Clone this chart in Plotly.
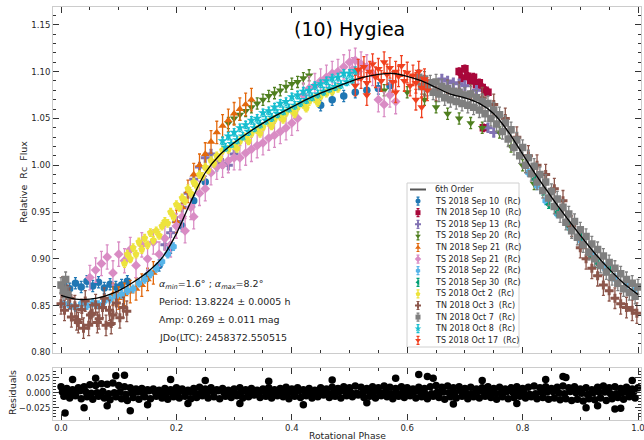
import plotly.graph_objects as go

# ---------------- data ----------------
SERIES_NAMES = ["TS 2018 Sep 10", "TN 2018 Sep 10", "TS 2018 Sep 13", "TS 2018 Sep 20",
                "TN 2018 Sep 21", "TS 2018 Sep 21", "TS 2018 Sep 22", "TS 2018 Sep 30",
                "TS 2018 Oct 2", "TN 2018 Oct 3", "TN 2018 Oct 7", "TN 2018 Oct 8",
                "TS 2018 Oct 17"]
SERIES_ERR = [0.006, 0.004, 0.005, 0.006, 0.012, 0.013, 0.004, 0.004, 0.004, 0.011, 0.008, 0.004, 0.011]

P_TS_SEP10 = [0.005, 0.015, 0.025, 0.035, 0.045, 0.055, 0.065, 0.075, 0.085, 0.095, 0.105, 0.115,
              0.150, 0.170, 0.190, 0.210, 0.230, 0.250, 0.270,
              0.450, 0.470, 0.490, 0.510, 0.530, 0.550, 0.570]
F_TS_SEP10 = [0.872, 0.868, 0.874, 0.870, 0.876, 0.871, 0.875, 0.869, 0.873, 0.870, 0.872, 0.876,
              0.882, 0.893, 0.912, 0.935, 0.962, 0.982, 1.000,
              1.064, 1.070, 1.074, 1.078, 1.080, 1.082, 1.085]

P_TN_SEP10 = [0.690, 0.695, 0.700, 0.705, 0.710, 0.715, 0.720, 0.725, 0.730, 0.735, 0.740, 0.732]
F_TN_SEP10 = [1.100, 1.093, 1.103, 1.095, 1.090, 1.094, 1.086, 1.088, 1.083, 1.080, 1.078, 1.040]

P_TS_SEP13 = [0.180, 0.190, 0.200, 0.210, 0.220, 0.230, 0.240, 0.250, 0.260, 0.270, 0.280, 0.290, 0.300,
              0.660, 0.670, 0.680, 0.690, 0.700, 0.720, 0.740, 0.750]
F_TS_SEP13 = [0.915, 0.928, 0.940, 0.955, 0.970, 0.985, 0.998, 1.008, 1.012, 1.005, 1.002, 1.000, 1.012,
              1.092, 1.090, 1.088, 1.087, 1.085, 1.080, 1.040, 1.035]

P_TS_SEP20 = [0.290, 0.300, 0.310, 0.320, 0.330, 0.340, 0.350, 0.360, 0.370, 0.380, 0.390, 0.400, 0.410, 0.420, 0.430,
              0.560, 0.600, 0.630, 0.650, 0.670, 0.690, 0.710, 0.730, 0.760, 0.780, 0.800, 0.820]
F_TS_SEP20 = [1.045, 1.050, 1.054, 1.058, 1.062, 1.066, 1.070, 1.074, 1.077, 1.080, 1.084, 1.087, 1.089, 1.093, 1.096,
              1.080, 1.078, 1.070, 1.062, 1.055, 1.050, 1.045, 1.040, 1.035, 1.020, 1.000, 0.980]

P_TN_SEP21 = [0.090, 0.100, 0.110, 0.120, 0.130, 0.140, 0.150, 0.160,
              0.200, 0.210, 0.220, 0.230, 0.240, 0.250, 0.260, 0.270, 0.280, 0.290, 0.300, 0.310, 0.320, 0.330]
F_TN_SEP21 = [0.862, 0.858, 0.862, 0.865, 0.868, 0.872, 0.878, 0.885,
              0.940, 0.955, 0.972, 0.990, 1.000, 1.012, 1.025, 1.035, 1.042, 1.048, 1.055, 1.060, 1.065, 1.070]

P_TS_SEP21 = [0.050, 0.060, 0.070, 0.080, 0.090, 0.100, 0.110, 0.120, 0.130, 0.140,
              0.150, 0.160, 0.170, 0.180, 0.190, 0.200, 0.210, 0.215, 0.225, 0.230,
              0.240, 0.250, 0.260, 0.270, 0.280, 0.290, 0.300, 0.310, 0.320, 0.330,
              0.340, 0.350, 0.360, 0.370, 0.380, 0.390, 0.400, 0.410,
              0.420, 0.430, 0.440, 0.450, 0.460, 0.470, 0.480, 0.490, 0.500, 0.505,
              0.510, 0.515, 0.520, 0.530, 0.540, 0.550, 0.560, 0.570, 0.580]
F_TS_SEP21 = [0.880, 0.888, 0.895, 0.902, 0.885, 0.905, 0.898, 0.910, 0.893, 0.915,
              0.900, 0.918, 0.905, 0.922, 0.915, 0.935, 0.945, 0.930, 0.955, 0.945,
              0.970, 0.975, 0.992, 0.998, 1.000, 1.005, 1.008, 1.008, 1.013, 1.017,
              1.021, 1.024, 1.029, 1.032, 1.036, 1.040, 1.045, 1.050,
              1.075, 1.082, 1.085, 1.090, 1.094, 1.098, 1.100, 1.105, 1.110, 1.102,
              1.112, 1.100, 1.108, 1.105, 1.098, 1.070, 1.065, 1.075, 1.068]

P_TS_SEP22 = [0.005, 0.015, 0.025, 0.035, 0.045, 0.055, 0.065, 0.075, 0.085, 0.095,
              0.105, 0.115, 0.125, 0.135, 0.145, 0.155, 0.165, 0.175, 0.185, 0.195,
              0.810, 0.825, 0.840, 0.860, 0.880, 0.900, 0.920, 0.940, 0.960, 0.980, 0.995]
F_TS_SEP22 = [0.852, 0.850, 0.848, 0.852, 0.850, 0.853, 0.851, 0.855, 0.857, 0.860,
              0.862, 0.866, 0.868, 0.874, 0.878, 0.884, 0.890, 0.897, 0.905, 0.913,
              0.992, 0.978, 0.962, 0.948, 0.935, 0.920, 0.905, 0.892, 0.880, 0.872, 0.868]

P_TS_SEP30 = [0.820, 0.835, 0.845, 0.860, 0.880, 0.900, 0.915, 0.930, 0.950]
F_TS_SEP30 = [0.985, 0.972, 0.958, 0.950, 0.935, 0.924, 0.905, 0.895, 0.890]

P_TS_OCT2 = [0.110, 0.115, 0.120, 0.125, 0.130, 0.135, 0.140, 0.145, 0.150, 0.155,
             0.160, 0.165, 0.170, 0.175, 0.180, 0.185, 0.190, 0.195, 0.200, 0.205,
             0.210, 0.215, 0.220, 0.225, 0.230, 0.235, 0.240, 0.245, 0.250, 0.255,
             0.260, 0.265, 0.270, 0.275, 0.280,
             0.290, 0.300, 0.310, 0.320, 0.330, 0.340, 0.350, 0.360, 0.370, 0.380,
             0.390, 0.400, 0.410, 0.420, 0.430, 0.440, 0.450, 0.460, 0.470, 0.480,
             0.305, 0.325, 0.345, 0.365, 0.385, 0.405, 0.425, 0.445]
F_TS_OCT2 = [0.895, 0.905, 0.900, 0.912, 0.905, 0.918, 0.910, 0.922, 0.915, 0.928,
             0.920, 0.930, 0.925, 0.935, 0.940, 0.938, 0.950, 0.945, 0.958, 0.955,
             0.965, 0.962, 0.975, 0.970, 0.982, 0.978, 0.990, 0.988, 0.998, 0.995,
             1.005, 1.002, 1.010, 1.008, 1.016,
             1.017, 1.021, 1.026, 1.030, 1.034, 1.038, 1.041, 1.046, 1.049, 1.052,
             1.056, 1.059, 1.062, 1.065, 1.068, 1.071, 1.074, 1.077, 1.079, 1.082,
             1.018, 1.026, 1.034, 1.042, 1.049, 1.055, 1.061, 1.067]

P_TN_OCT3 = [0.000, 0.006, 0.012, 0.018, 0.024, 0.030, 0.036, 0.042, 0.048, 0.054,
             0.060, 0.066, 0.072, 0.078, 0.084, 0.090, 0.096, 0.102, 0.108, 0.114,
             0.003, 0.015, 0.027, 0.039, 0.051, 0.063, 0.075, 0.087,
             0.630, 0.650, 0.670, 0.690, 0.710, 0.730, 0.750, 0.770, 0.790, 0.810,
             0.825, 0.840, 0.855, 0.870, 0.885, 0.900, 0.910, 0.920, 0.930, 0.940,
             0.950, 0.960, 0.970, 0.980, 0.990, 0.998]
F_TN_OCT3 = [0.852, 0.845, 0.861, 0.838, 0.850, 0.832, 0.846, 0.855, 0.829, 0.842,
             0.851, 0.836, 0.848, 0.829, 0.845, 0.840, 0.853, 0.837, 0.848, 0.844,
             0.870, 0.858, 0.835, 0.826, 0.840, 0.832, 0.858, 0.831,
             1.085, 1.080, 1.080, 1.078, 1.075, 1.072, 1.065, 1.050, 1.030, 1.010,
             1.000, 0.990, 0.975, 0.962, 0.935, 0.912, 0.900, 0.890, 0.882, 0.872,
             0.866, 0.858, 0.852, 0.848, 0.845, 0.842]

P_TN_OCT7 = [0.620, 0.630, 0.640, 0.650, 0.660, 0.670, 0.680, 0.690, 0.700, 0.710,
             0.720, 0.730, 0.740, 0.750, 0.760, 0.770, 0.780, 0.790, 0.800, 0.810,
             0.820, 0.830, 0.840, 0.850, 0.860, 0.870, 0.880, 0.890, 0.900, 0.910,
             0.920, 0.930, 0.940, 0.950, 0.960, 0.970, 0.980, 0.990, 1.000,
             0.625, 0.635, 0.645, 0.655, 0.665, 0.675, 0.685, 0.695, 0.705, 0.715,
             0.725, 0.735, 0.745, 0.755, 0.765, 0.775, 0.785, 0.795, 0.805, 0.815,
             0.825, 0.835, 0.845, 0.855, 0.865, 0.875, 0.885, 0.895, 0.905, 0.915,
             0.925, 0.935, 0.945, 0.955, 0.965, 0.975, 0.985, 0.995,
             0.000, 0.004, 0.008, 0.012]
F_TN_OCT7 = [1.094, 1.092, 1.088, 1.089, 1.084, 1.082, 1.079, 1.078, 1.075, 1.076,
             1.072, 1.068, 1.066, 1.059, 1.054, 1.045, 1.038, 1.027, 1.019, 1.008,
             0.999, 0.990, 0.982, 0.972, 0.964, 0.955, 0.948, 0.940, 0.931, 0.924,
             0.916, 0.910, 0.903, 0.896, 0.890, 0.884, 0.878, 0.874, 0.870,
             1.084, 1.082, 1.078, 1.076, 1.072, 1.070, 1.068, 1.066, 1.064, 1.062,
             1.059, 1.055, 1.050, 1.044, 1.036, 1.028, 1.019, 1.010, 1.000, 0.991,
             0.982, 0.973, 0.965, 0.956, 0.947, 0.939, 0.930, 0.923, 0.915, 0.907,
             0.900, 0.893, 0.886, 0.880, 0.874, 0.868, 0.864, 0.860,
             0.872, 0.866, 0.878, 0.862]

P_TN_OCT8 = [0.280, 0.290, 0.300, 0.310, 0.320, 0.330, 0.340, 0.350, 0.360, 0.370,
             0.380, 0.390, 0.400, 0.410, 0.420, 0.430, 0.440, 0.450, 0.460, 0.470,
             0.480, 0.490, 0.500, 0.510,
             0.285, 0.295, 0.305, 0.315, 0.325, 0.335, 0.345, 0.355, 0.365, 0.375,
             0.385, 0.395, 0.405, 0.415, 0.425, 0.435, 0.445, 0.455, 0.465, 0.475,
             0.485, 0.495, 0.505]
F_TN_OCT8 = [1.026, 1.031, 1.035, 1.040, 1.043, 1.048, 1.050, 1.056, 1.058, 1.062,
             1.066, 1.068, 1.073, 1.075, 1.079, 1.080, 1.085, 1.087, 1.090, 1.093,
             1.094, 1.098, 1.098, 1.101,
             1.019, 1.023, 1.027, 1.031, 1.036, 1.040, 1.044, 1.048, 1.051, 1.055,
             1.058, 1.061, 1.064, 1.067, 1.070, 1.073, 1.076, 1.079, 1.082, 1.084,
             1.086, 1.089, 1.091]

P_TS_OCT17 = [0.510, 0.515, 0.520, 0.525, 0.530, 0.535, 0.540, 0.545, 0.550, 0.555,
              0.560, 0.565, 0.570, 0.575, 0.580, 0.585, 0.590, 0.595, 0.600, 0.605,
              0.610, 0.615, 0.620, 0.625, 0.630, 0.635,
              0.530, 0.580, 0.615, 0.625]
F_TS_OCT17 = [1.085, 1.102, 1.093, 1.105, 1.088, 1.100, 1.108, 1.094, 1.103, 1.090,
              1.110, 1.097, 1.104, 1.089, 1.100, 1.095, 1.106, 1.090, 1.099, 1.085,
              1.096, 1.088, 1.100, 1.083, 1.092, 1.080,
              1.075, 1.078, 1.070, 1.062]

FIT_PHASE = [0.000, 0.025, 0.050, 0.075, 0.100, 0.125, 0.150, 0.175, 0.200, 0.225,
             0.250, 0.275, 0.300, 0.325, 0.350, 0.375, 0.400, 0.425, 0.450, 0.475,
             0.500, 0.525, 0.550, 0.575, 0.600, 0.625, 0.650, 0.675, 0.700, 0.725,
             0.750, 0.775, 0.800, 0.825, 0.850, 0.875, 0.900, 0.925, 0.950, 0.975, 1.000]
FIT_FLUX = [0.861, 0.857, 0.857, 0.860, 0.866, 0.875, 0.886, 0.901, 0.927, 0.961,
            0.992, 1.011, 1.024, 1.035, 1.045, 1.054, 1.062, 1.070, 1.077, 1.083,
            1.089, 1.094, 1.097, 1.098, 1.095, 1.090, 1.083, 1.076, 1.072, 1.066,
            1.055, 1.036, 1.012, 0.988, 0.966, 0.945, 0.925, 0.906, 0.889, 0.874, 0.862]

RES_PHASE = [0.00, 0.01, 0.02, 0.03, 0.04, 0.05, 0.06, 0.07, 0.08, 0.09,
             0.10, 0.11, 0.12, 0.13, 0.14, 0.15, 0.16, 0.17, 0.18, 0.19,
             0.20, 0.21, 0.22, 0.23, 0.24, 0.25, 0.26, 0.27, 0.28, 0.29,
             0.30, 0.31, 0.32, 0.33, 0.34, 0.35, 0.36, 0.37, 0.38, 0.39,
             0.40, 0.41, 0.42, 0.43, 0.44, 0.45, 0.46, 0.47, 0.48, 0.49,
             0.50, 0.51, 0.52, 0.53, 0.54, 0.55, 0.56, 0.57, 0.58, 0.59,
             0.60, 0.61, 0.62, 0.63, 0.64, 0.65, 0.66, 0.67, 0.68, 0.69,
             0.70, 0.71, 0.72, 0.73, 0.74, 0.75, 0.76, 0.77, 0.78, 0.79,
             0.80, 0.81, 0.82, 0.83, 0.84, 0.85, 0.86, 0.87, 0.88, 0.89,
             0.90, 0.91, 0.92, 0.93, 0.94, 0.95, 0.96, 0.97, 0.98, 0.99, 1.00,
             0.005, 0.015, 0.025, 0.035, 0.045, 0.055, 0.065, 0.075, 0.085, 0.095,
             0.105, 0.115, 0.125, 0.135, 0.145, 0.155, 0.165, 0.175, 0.185, 0.195,
             0.205, 0.215, 0.225, 0.235, 0.245, 0.255, 0.265, 0.275, 0.285, 0.295,
             0.305, 0.315, 0.325, 0.335, 0.345, 0.355, 0.365, 0.375, 0.385, 0.395,
             0.405, 0.415, 0.425, 0.435, 0.445, 0.455, 0.465, 0.475, 0.485, 0.495,
             0.505, 0.515, 0.525, 0.535, 0.545, 0.555, 0.565, 0.575, 0.585, 0.595,
             0.605, 0.615, 0.625, 0.635, 0.645, 0.655, 0.665, 0.675, 0.685, 0.695,
             0.705, 0.715, 0.725, 0.735, 0.745, 0.755, 0.765, 0.775, 0.785, 0.795,
             0.805, 0.815, 0.825, 0.835, 0.845, 0.855, 0.865, 0.875, 0.885, 0.895,
             0.905, 0.915, 0.925, 0.935, 0.945, 0.955, 0.965, 0.975, 0.985, 0.995,
             0.0025, 0.0225, 0.0425, 0.0625, 0.0825, 0.1025, 0.1225, 0.1425, 0.1625, 0.1825,
             0.2025, 0.2225, 0.2425, 0.2625, 0.2825, 0.3025, 0.3225, 0.3425, 0.3625, 0.3825,
             0.4025, 0.4225, 0.4425, 0.4625, 0.4825, 0.5025, 0.5225, 0.5425, 0.5625, 0.5825,
             0.6025, 0.6225, 0.6425, 0.6625, 0.6825, 0.7025, 0.7225, 0.7425, 0.7625, 0.7825,
             0.8025, 0.8225, 0.8425, 0.8625, 0.8825, 0.9025, 0.9225, 0.9425, 0.9625, 0.9825,
             0.0125, 0.0325, 0.0525, 0.0725, 0.0925, 0.1125, 0.1325, 0.1525, 0.1725, 0.1925,
             0.2125, 0.2325, 0.2525, 0.2725, 0.2925, 0.3125, 0.3325, 0.3525, 0.3725, 0.3925,
             0.4125, 0.4325, 0.4525, 0.4725, 0.4925, 0.5125, 0.5325, 0.5525, 0.5725, 0.5925,
             0.6125, 0.6325, 0.6525, 0.6725, 0.6925, 0.7125, 0.7325, 0.7525, 0.7725, 0.7925,
             0.8125, 0.8325, 0.8525, 0.8725, 0.8925, 0.9125, 0.9325, 0.9525, 0.9725, 0.9925,
             0.007, 0.020, 0.040, 0.060, 0.080, 0.095, 0.110, 0.120, 0.150, 0.190,
             0.220, 0.250, 0.310, 0.360, 0.420, 0.470, 0.530, 0.580, 0.620, 0.635,
             0.645, 0.680, 0.730, 0.790, 0.840, 0.870, 0.875, 0.910, 0.930, 0.960, 0.970, 0.990]
RES_VALUE = [0.010, 0.007, 0.005, 0.008, 0.010, 0.013, 0.012, 0.015, 0.014, 0.016,
             0.012, 0.010, 0.008, 0.006, 0.007, 0.005, 0.006, 0.004, 0.007, 0.005,
             0.008, 0.006, 0.004, 0.007, 0.009, 0.006, 0.008, 0.005, 0.007, 0.004,
             0.006, 0.008, 0.005, 0.007, 0.004, 0.006, 0.008, 0.005, 0.007, 0.009,
             0.006, 0.008, 0.005, 0.007, 0.004, 0.008, 0.006, 0.009, 0.007, 0.010,
             0.008, 0.011, 0.009, 0.007, 0.010, 0.008, 0.011, 0.009, 0.007, 0.010,
             0.008, 0.006, 0.009, 0.007, 0.010, 0.012, 0.009, 0.011, 0.008, 0.010,
             0.007, 0.009, 0.006, 0.008, 0.010, 0.007, 0.009, 0.006, 0.008, 0.010,
             0.007, 0.009, 0.011, 0.008, 0.010, 0.007, 0.009, 0.011, 0.008, 0.010,
             0.006, 0.008, 0.005, 0.009, 0.011, 0.008, 0.010, 0.007, 0.009, 0.006, 0.008,
             -0.006, -0.009, -0.005, -0.010, -0.007, -0.011, -0.006, -0.009, -0.012, -0.007,
             -0.010, -0.013, -0.008, -0.011, -0.007, -0.010, -0.006, -0.009, -0.011, -0.007,
             -0.009, -0.006, -0.010, -0.008, -0.005, -0.009, -0.007, -0.010, -0.006, -0.008,
             -0.005, -0.009, -0.007, -0.004, -0.008, -0.006, -0.009, -0.005, -0.007, -0.010,
             -0.006, -0.008, -0.005, -0.009, -0.007, -0.004, -0.008, -0.006, -0.009, -0.005,
             -0.007, -0.004, -0.008, -0.006, -0.009, -0.005, -0.007, -0.010, -0.006, -0.008,
             -0.005, -0.009, -0.007, -0.010, -0.006, -0.008, -0.011, -0.007, -0.009, -0.006,
             -0.010, -0.007, -0.009, -0.006, -0.008, -0.011, -0.007, -0.010, -0.008, -0.006,
             -0.009, -0.007, -0.010, -0.008, -0.011, -0.009, -0.012, -0.010, -0.013, -0.011,
             -0.014, -0.010, -0.012, -0.009, -0.013, -0.010, -0.008, -0.011, -0.007, -0.009,
             0.001, -0.001, 0.002, 0.000, -0.002, 0.001, 0.000, -0.001, 0.002, -0.002,
             0.000, 0.001, -0.001, 0.002, 0.000, -0.002, 0.001, -0.001, 0.000, 0.002,
             -0.001, 0.001, 0.000, -0.002, 0.002, 0.000, -0.001, 0.001, 0.002, -0.001,
             0.000, 0.001, -0.002, 0.001, 0.000, -0.001, 0.002, 0.000, -0.001, 0.001,
             0.000, -0.002, 0.001, 0.000, 0.002, -0.001, 0.000, 0.001, -0.002, 0.000,
             -0.002, 0.003, -0.001, 0.002, 0.000, -0.003, 0.001, 0.003, -0.002, 0.000,
             0.002, -0.001, 0.000, 0.003, -0.002, 0.001, -0.003, 0.002, 0.000, -0.001,
             0.003, 0.000, -0.002, 0.001, 0.002, -0.001, 0.003, 0.000, -0.002, 0.001,
             0.002, -0.003, 0.001, 0.000, 0.003, -0.002, 0.001, -0.001, 0.002, 0.000,
             -0.003, 0.001, 0.002, -0.002, 0.000, -0.003, 0.001, -0.002, 0.000, 0.002,
             -0.034, 0.022, -0.025, 0.024, -0.022, 0.028, 0.029, -0.030, -0.020, 0.022,
             -0.018, 0.020, -0.018, 0.019, -0.020, 0.021, -0.017, 0.024, 0.030, 0.027,
             0.024, -0.019, 0.020, -0.018, 0.022, 0.027, 0.025, -0.025, -0.022, -0.027, -0.026, 0.020]

INFO_LINES = ["<i>α</i><sub><i>min</i></sub>=1.6° ; <i>α</i><sub><i>max</i></sub>=8.2°",
              "Period: 13.8224 ± 0.0005 h",
              "Amp: 0.269 ± 0.011 mag",
              "JDo(LTC): 2458372.550515"]

# ---------------- styles ----------------
COLORS = ["#1f77b4", "#a8073a", "#8172b3", "#4f7f1f", "#e2680c", "#d98cc4", "#56b4e9",
          "#009e73", "#ede33c", "#8c564b", "#7f7f7f", "#17becf", "#f0401f"]
SYMBOLS = ["circle", "square", "cross", "triangle-down", "triangle-up", "diamond", "hexagon",
           "triangle-left", "pentagon", "cross", "square", "star", "triangle-down"]

SERIES_P = [P_TS_SEP10, P_TN_SEP10, P_TS_SEP13, P_TS_SEP20, P_TN_SEP21, P_TS_SEP21, P_TS_SEP22,
            P_TS_SEP30, P_TS_OCT2, P_TN_OCT3, P_TN_OCT7, P_TN_OCT8, P_TS_OCT17]
SERIES_F = [F_TS_SEP10, F_TN_SEP10, F_TS_SEP13, F_TS_SEP20, F_TN_SEP21, F_TS_SEP21, F_TS_SEP22,
            F_TS_SEP30, F_TS_OCT2, F_TN_OCT3, F_TN_OCT7, F_TN_OCT8, F_TS_OCT17]

W, H = 644, 440
FONT = "DejaVu Sans"
TXT = "#262626"
SPINE = "#cccccc"


def px(x):
    return x / W


def py(y):
    return 1 - y / H


fig = go.Figure()

for name, p, f, e, c, s in zip(SERIES_NAMES, SERIES_P, SERIES_F, SERIES_ERR, COLORS, SYMBOLS):
    fig.add_trace(go.Scatter(
        x=p, y=f, mode="markers", name=name + "  (Rc)", showlegend=False,
        marker=dict(color=c, size=7.5, symbol=s, line=dict(width=0)),
        error_y=dict(type="constant", value=e, color=c, thickness=1.3, width=1.5),
        xaxis="x", yaxis="y"))

fig.add_trace(go.Scatter(x=FIT_PHASE, y=FIT_FLUX, mode="lines", name="6th Order",
                         line=dict(color="black", width=1.3, shape="spline", smoothing=0.8),
                         showlegend=False, xaxis="x", yaxis="y"))

fig.add_trace(go.Scatter(x=RES_PHASE, y=RES_VALUE, mode="markers", showlegend=False,
                         marker=dict(color="black", size=7.5), xaxis="x2", yaxis="y2"))

# ---------------- custom legend (drawn in pixel space) ----------------
LEG_BOX = (407, 183, 519, 347)
LEG_Y0, LEG_DY = 189.5, 11.6
LEG_SYM_X, LEG_TXT_X = 418, 433

fig.add_shape(type="rect", xref="paper", yref="paper", layer="below",
              x0=px(LEG_BOX[0]), x1=px(LEG_BOX[2]), y0=py(LEG_BOX[3]), y1=py(LEG_BOX[1]),
              line=dict(color="#d0d0d0", width=1), fillcolor="white")

fig.add_trace(go.Scatter(x=[LEG_SYM_X - 8, LEG_SYM_X + 8], y=[LEG_Y0, LEG_Y0], mode="lines",
                         line=dict(color="#555555", width=2), showlegend=False,
                         xaxis="x3", yaxis="y3", hoverinfo="skip"))
labels = ["6th Order"] + [n + "\u00a0 (Rc)" for n in SERIES_NAMES]
for i, (c, s) in enumerate(zip(COLORS, SYMBOLS)):
    yy = LEG_Y0 + (i + 1) * LEG_DY
    fig.add_trace(go.Scatter(x=[LEG_SYM_X], y=[yy], mode="markers", showlegend=False,
                             marker=dict(color=c, size=5, symbol=s),
                             error_y=dict(type="constant", value=4, color=c, thickness=1.2, width=1.5),
                             xaxis="x3", yaxis="y3", hoverinfo="skip"))
for i, lab in enumerate(labels):
    fig.add_annotation(x=px(LEG_TXT_X), y=py(LEG_Y0 + i * LEG_DY), xref="paper", yref="paper",
                       text=lab, showarrow=False, xanchor="left", yanchor="middle",
                       font=dict(family=FONT, size=8, color=TXT))

# ---------------- text ----------------
fig.add_annotation(x=px(349), y=py(29), xref="paper", yref="paper", text="(10) Hygiea",
                   showarrow=False, xanchor="center", yanchor="middle",
                   font=dict(family=FONT, size=19, color="black"))
for i, line in enumerate(INFO_LINES):
    fig.add_annotation(x=px(157), y=py(284 + i * 17.7), xref="paper", yref="paper", text=line,
                       showarrow=False, xanchor="left", yanchor="middle",
                       font=dict(family=FONT, size=9.5, color=TXT))
fig.add_annotation(x=px(24), y=py(182), xref="paper", yref="paper",
                   text="Relative\u00a0 Rc\u00a0 Flux", textangle=-90, showarrow=False,
                   xanchor="center", yanchor="middle",
                   font=dict(family=FONT, size=9.5, color=TXT))
fig.add_annotation(x=px(12), y=py(393), xref="paper", yref="paper", text="Residuals",
                   textangle=-90, showarrow=False, xanchor="center", yanchor="middle",
                   font=dict(family=FONT, size=9.5, color=TXT))
fig.add_annotation(x=px(347), y=py(435), xref="paper", yref="paper", text="Rotational Phase",
                   showarrow=False, xanchor="center", yanchor="middle",
                   font=dict(family=FONT, size=9.2, color=TXT))

# ---------------- axes ----------------
XDOM = [px(53), px(641)]
XRANGE = [-0.0139, 1.0052]
common_x = dict(domain=XDOM, range=XRANGE, showgrid=False, zeroline=False, showline=True,
                linecolor=SPINE, linewidth=1, mirror="ticks", ticks="inside", ticklen=6,
                tickcolor="#333333", tickwidth=1, dtick=0.2, tick0=0,
                minor=dict(ticks="inside", dtick=0.05, ticklen=3, tickcolor="#333333"),
                tickfont=dict(family=FONT, size=8.5, color=TXT), automargin=False,
                ticklabeloverflow="allow")
common_y = dict(showgrid=False, zeroline=False, showline=True, linecolor=SPINE, linewidth=1,
                mirror="ticks", ticks="inside", ticklen=6, tickcolor="#333333", tickwidth=1,
                tickfont=dict(family=FONT, size=8.5, color=TXT), automargin=False,
                ticklabeloverflow="allow")

fig.update_layout(
    width=W, height=H, margin=dict(l=0, r=0, t=0, b=0),
    paper_bgcolor="white", plot_bgcolor="rgba(0,0,0,0)", showlegend=False,
    xaxis=dict(common_x, anchor="y", showticklabels=False),
    yaxis=dict(common_y, domain=[py(352.5), py(7)], range=[0.80, 1.169], dtick=0.05,
               tick0=0.8, tickformat=".2f",
               minor=dict(ticks="inside", dtick=0.01, ticklen=3, tickcolor="#333333"), anchor="x"),
    xaxis2=dict(common_x, anchor="y2", tickformat=".1f"),
    yaxis2=dict(common_y, domain=[py(420), py(368)], range=[-0.0455, 0.041], dtick=0.025,
                tick0=0, tickformat=".3f",
                minor=dict(ticks="inside", dtick=0.005, ticklen=3, tickcolor="#333333"), anchor="x2"),
    xaxis3=dict(domain=[0, 1], range=[0, W], visible=False, anchor="y3", fixedrange=True),
    yaxis3=dict(domain=[0, 1], range=[H, 0], visible=False, anchor="x3", fixedrange=True),
)

fig.write_html("out.html", config={"displayModeBar": False},
               post_script="document.body.style.margin='0px';document.body.style.overflow='hidden';")
